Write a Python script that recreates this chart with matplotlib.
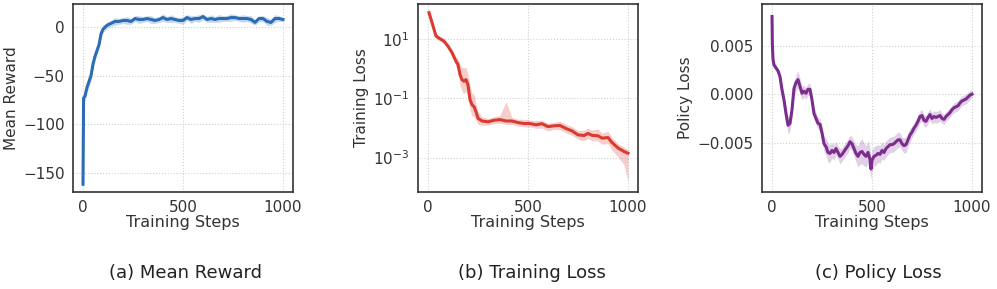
import numpy as np
import matplotlib.pyplot as plt

# ---- data ----
reward_steps = [0, 3, 10, 20, 30, 40, 50, 60, 70, 80, 90, 100,
                120, 140, 160, 180, 200, 220, 240, 260, 280, 300,
                320, 340, 360, 380, 400, 420, 440, 460, 480, 500,
                520, 540, 560, 580, 600, 620, 640, 660, 680, 700,
                720, 740, 760, 780, 800, 820, 840, 860, 880, 900,
                920, 940, 960, 980, 1000]
reward_mean = [-162, -73, -71, -62, -56, -50, -38, -30, -24, -18, -7, -2,
               2, 4, 6, 6, 7, 7, 6, 9, 8, 8,
               9, 8, 7, 8, 10, 8, 9, 8, 7, 7,
               10, 8, 9, 9, 11, 8, 9, 8, 9, 9,
               9, 10, 10, 9, 9, 9, 8, 5, 9, 9,
               6, 5, 9, 9, 8]
reward_std = [2, 4, 5, 5, 5, 5, 5, 4, 4, 4, 4, 4,
              3, 3, 4, 3, 3, 4, 3, 3, 4, 3,
              3, 4, 3, 3, 4, 3, 4, 3, 3, 4,
              3, 4, 3, 4, 3, 3, 4, 3, 4, 3,
              3, 4, 3, 3, 4, 3, 4, 3, 3, 3,
              4, 3, 4, 3, 2]

loss_steps = [5, 20, 40, 60, 80, 100, 120, 140,
              150, 160, 170, 180, 190, 200, 210, 220, 230, 240, 250,
              270, 300, 330, 360, 390, 420, 450, 480, 510, 540, 570, 600,
              630, 660, 690, 720, 750, 780,
              800, 820, 850, 870, 900, 920, 950, 980, 1000]
loss_mean = [76, 35, 12.3, 10, 8.3, 5.6, 3.4, 1.74,
             1.35, 0.62, 0.42, 0.37, 0.42, 0.28, 0.089, 0.060, 0.052, 0.035, 0.021,
             0.017, 0.016, 0.018, 0.019, 0.017, 0.017, 0.015, 0.014, 0.014, 0.0126, 0.0138, 0.011,
             0.0117, 0.012, 0.0095, 0.0079, 0.0058, 0.0055,
             0.0065, 0.0056, 0.0054, 0.0045, 0.0047, 0.0032, 0.0021, 0.0016, 0.0014]
loss_low = [1.1, 1.2, 1.2, 1.2, 1.2, 1.2, 1.3, 1.4,
            1.6, 2.2, 2.5, 2.6, 2.5, 2.5, 2.2, 2.4, 2.2, 2.0, 1.6,
            1.4, 1.3, 1.3, 1.3, 1.3, 1.3, 1.3, 1.3, 1.3, 1.3, 1.4, 1.4,
            1.3, 1.4, 1.4, 1.4, 1.4, 1.5,
            1.5, 1.5, 1.5, 1.6, 1.6, 1.8, 2.0, 2.8, 9.0]
loss_high = [1.1, 1.2, 1.2, 1.2, 1.2, 1.2, 1.3, 1.4,
             1.6, 2.2, 2.6, 2.8, 2.6, 2.2, 3.0, 2.4, 2.6, 1.8, 1.6,
             1.4, 1.3, 1.3, 1.4, 4.5, 1.3, 1.3, 1.4, 1.3, 1.4, 1.3, 1.3,
             1.3, 1.4, 1.4, 1.4, 1.4, 1.5,
             1.5, 1.5, 1.7, 1.5, 1.6, 1.5, 1.4, 1.4, 1.3]

policy_steps = [0, 2, 5, 10, 20, 30, 40, 50, 60, 70, 80, 90,
                100, 110, 120, 130, 140, 150, 160, 170, 180, 190,
                200, 210, 220, 230, 240, 250, 260, 270, 280, 290,
                300, 310, 320, 330, 340, 350, 360, 370, 380, 390,
                400, 410, 420, 430, 440, 450, 460, 470, 480, 490, 495,
                500, 510, 520, 530, 540, 550, 560, 570, 580, 590,
                600, 610, 620, 630, 640, 650, 660, 670, 680, 690,
                700, 710, 720, 730, 740, 750, 760, 770, 780, 790,
                800, 810, 820, 830, 840, 850, 860, 870, 880, 890,
                900, 910, 920, 930, 940, 950, 960, 970, 980, 990, 1000]
policy_mean = [0.0080, 0.0050, 0.0036, 0.0030, 0.0027, 0.0024, 0.0018, 0.00045, -0.0006, -0.0020, -0.0032, -0.0030,
               -0.0016, 0.0006, 0.0012, 0.0015, 0.0008, 0.0001, 0.0003, 0.0001, 0.0005, 0.0005,
               -0.0006, -0.0020, -0.0025, -0.0030, -0.0031, -0.0040, -0.0051, -0.0054, -0.0060, -0.0061,
               -0.0058, -0.0060, -0.0056, -0.0060, -0.0064, -0.0062, -0.0059, -0.0056, -0.0053, -0.0049,
               -0.0051, -0.0056, -0.0061, -0.0064, -0.0060, -0.0059, -0.0062, -0.0064, -0.0060, -0.0067, -0.0077,
               -0.0068, -0.0064, -0.0063, -0.0061, -0.0062, -0.0058, -0.0060, -0.0056, -0.0054, -0.0052,
               -0.0052, -0.0051, -0.0049, -0.0047, -0.0047, -0.0051, -0.0053, -0.0052, -0.0047, -0.0042,
               -0.0039, -0.0035, -0.0032, -0.0028, -0.0023, -0.0022, -0.0027, -0.0028, -0.0024, -0.0021,
               -0.0025, -0.0023, -0.0024, -0.0023, -0.0022, -0.0025, -0.0026, -0.0023, -0.0021, -0.0019,
               -0.0016, -0.0014, -0.0013, -0.0012, -0.0009, -0.0007, -0.0006, -0.0005, -0.0003, -0.0001, 0.0000]
policy_std = [0.0002, 0.0003, 0.0003, 0.0003, 0.0003, 0.0003, 0.0004, 0.0005, 0.0006, 0.0007, 0.0009, 0.0008,
              0.0007, 0.0007, 0.0008, 0.0009, 0.0008, 0.0007, 0.0006, 0.0006, 0.0006, 0.0006,
              0.0006, 0.0006, 0.0006, 0.0006, 0.0006, 0.0007, 0.0008, 0.0009, 0.0010, 0.0009,
              0.0008, 0.0008, 0.0007, 0.0007, 0.0008, 0.0007, 0.0007, 0.0007, 0.0007, 0.0007,
              0.0007, 0.0008, 0.0009, 0.0011, 0.0012, 0.0013, 0.0012, 0.0011, 0.0012, 0.0012, 0.0010,
              0.0011, 0.0010, 0.0010, 0.0009, 0.0009, 0.0009, 0.0008, 0.0008, 0.0008, 0.0008,
              0.0008, 0.0008, 0.0008, 0.0008, 0.0007, 0.0007, 0.0008, 0.0008, 0.0007, 0.0007,
              0.0006, 0.0006, 0.0006, 0.0006, 0.0006, 0.0006, 0.0006, 0.0006, 0.0006, 0.0006,
              0.0006, 0.0006, 0.0006, 0.0006, 0.0006, 0.0005, 0.0005, 0.0005, 0.0005, 0.0005,
              0.0005, 0.0005, 0.0005, 0.0005, 0.0005, 0.0005, 0.0005, 0.0005, 0.0005, 0.0005, 0.0004]

captions = ["(a) Mean Reward", "(b) Training Loss", "(c) Policy Loss"]
ylabels = ["Mean Reward", "Training Loss", "Policy Loss"]
colors = ["#2b6cb5", "#d93a32", "#7b2d8e"]

plt.rcParams['font.family'] = ['DejaVu Sans']
fig = plt.figure(figsize=(9.97, 2.89), dpi=100)

lefts = [73, 418, 762]
axes = [fig.add_axes([l / 997, 97 / 289, 220 / 997, 188 / 289]) for l in lefts]


def style(ax, ylabel):
    ax.set_facecolor("white")
    ax.grid(True, linestyle=":", color="#d0d0d0", linewidth=0.8)
    ax.set_axisbelow(True)
    for s in ax.spines.values():
        s.set_color("#333333")
        s.set_linewidth(1.2)
    ax.tick_params(length=0, labelsize=11, colors="#333333", pad=6)
    ax.set_xlabel("Training Steps", fontsize=11.5, color="#333333", labelpad=0)
    ax.set_ylabel(ylabel, fontsize=11, color="#333333", labelpad=3)
    ax.set_xlim(-50, 1050)
    ax.set_xticks([0, 500, 1000])


# (a) reward
ax = axes[0]
rs = np.array(reward_steps)
rm = np.array(reward_mean, dtype=float)
rd = np.array(reward_std, dtype=float)
ax.fill_between(rs, rm - rd, rm + rd, color=colors[0], alpha=0.25, linewidth=0)
ax.plot(rs, rm, color=colors[0], linewidth=2.2)
ax.set_ylim(-170, 24)
ax.set_yticks([0, -50, -100, -150])
style(ax, ylabels[0])

# (b) training loss
ax = axes[1]
ls = np.array(loss_steps)
lm = np.array(loss_mean)
ax.fill_between(ls, lm / np.array(loss_low), lm * np.array(loss_high),
                color=colors[1], alpha=0.25, linewidth=0)
ax.plot(ls, lm, color=colors[1], linewidth=2.2)
ax.set_yscale("log")
ax.set_ylim(10 ** -4.16, 10 ** 2.17)
ax.set_yticks([10, 0.1, 0.001])
ax.minorticks_off()
style(ax, ylabels[1])

# (c) policy loss
ax = axes[2]
ps = np.array(policy_steps)
pm = np.array(policy_mean)
pd = np.array(policy_std)
ax.fill_between(ps, pm - pd, pm + pd, color=colors[2], alpha=0.22, linewidth=0)
ax.plot(ps, pm, color=colors[2], linewidth=2.2)
ax.set_ylim(-0.01007, 0.00928)
ax.set_yticks([0.005, 0.0, -0.005])
ax.set_yticklabels(["0.005", "0.000", "\u22120.005"])
style(ax, ylabels[2])

for cx, cap in zip([185, 532, 878], captions):
    fig.text(cx / 997, 16 / 289, cap, ha="center", va="center", fontsize=13, color="#222222")

fig.savefig("out.png", dpi=100)
